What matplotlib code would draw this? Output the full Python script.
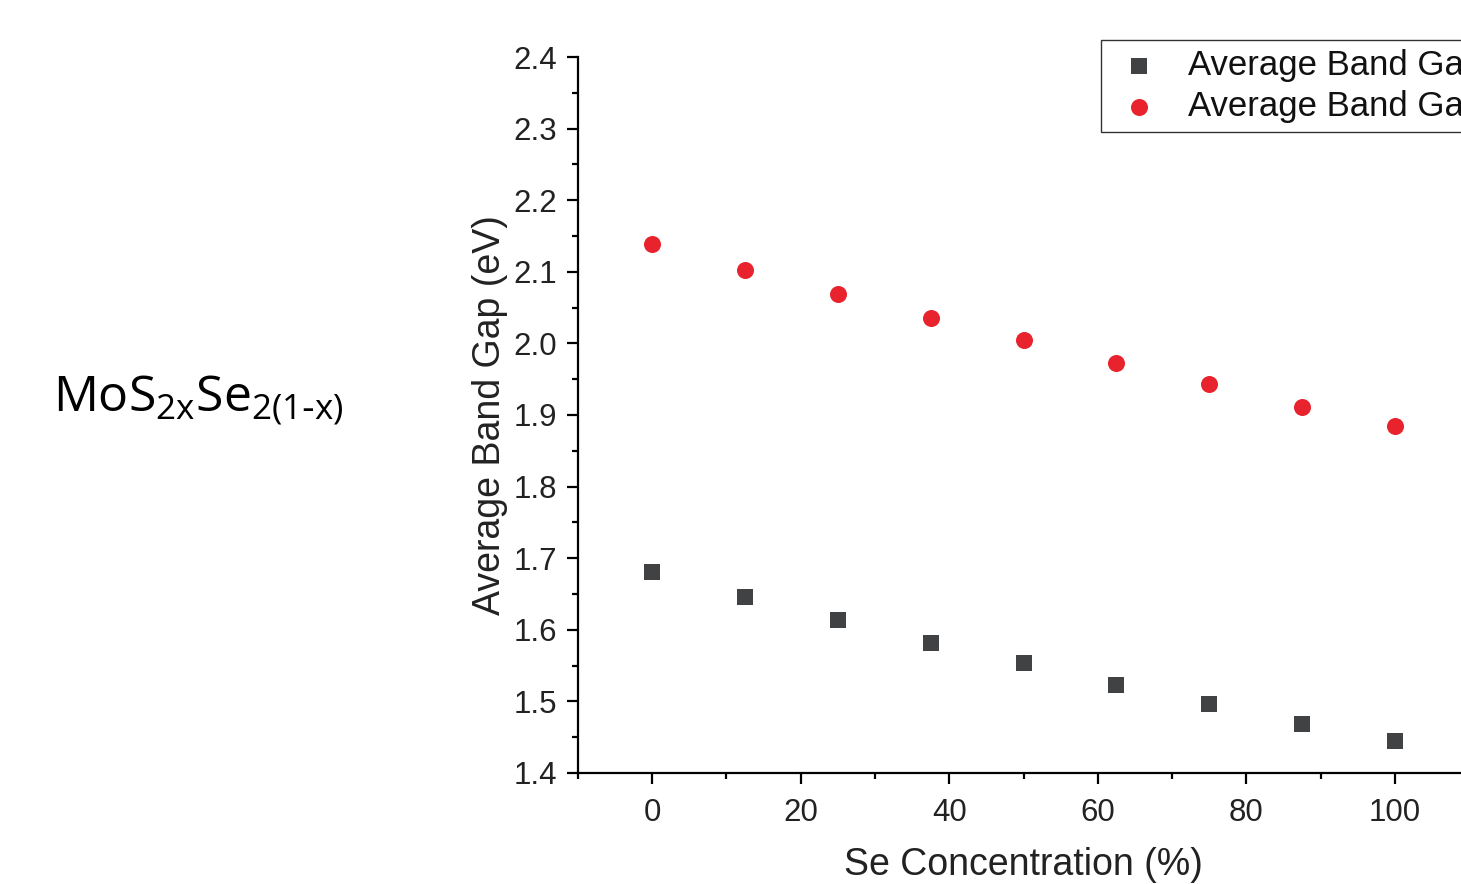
import matplotlib
matplotlib.use("Agg")
import matplotlib.pyplot as plt
from matplotlib.ticker import MultipleLocator, FormatStrFormatter

# Data
se_conc = [0, 12.5, 25, 37.5, 50, 62.5, 75, 87.5, 100]
gap_pbe = [1.681, 1.646, 1.614, 1.582, 1.554, 1.523, 1.496, 1.468, 1.445]
gap_hse = [2.139, 2.103, 2.069, 2.036, 2.005, 1.973, 1.943, 1.911, 1.885]
labels = ["Average Band Gap (PBE)", "Average Band Gap (HSE)"]

plt.rcParams['font.family'] = ['Liberation Sans', 'DejaVu Sans']

fig = plt.figure(figsize=(14.61, 8.84), dpi=100)
ax = fig.add_axes([0.3956, 0.1256, 1.0055 - 0.3956, 0.9355 - 0.1256])

ax.scatter(se_conc, gap_pbe, marker='s', s=120, color='#404244', label=labels[0], zorder=3, linewidths=0)
ax.scatter(se_conc, gap_hse, marker='o', s=150, color='#e8232d', label=labels[1], zorder=3, linewidths=0)

ax.set_xlim(-10, 110)
ax.set_ylim(1.4, 2.4)
ax.xaxis.set_major_locator(MultipleLocator(20))
ax.xaxis.set_minor_locator(MultipleLocator(10))
ax.yaxis.set_major_locator(MultipleLocator(0.1))
ax.yaxis.set_minor_locator(MultipleLocator(0.05))
ax.yaxis.set_major_formatter(FormatStrFormatter('%.1f'))

for side in ['top', 'right']:
    ax.spines[side].set_visible(False)
for side in ['left', 'bottom']:
    ax.spines[side].set_linewidth(1.6)

ax.tick_params(which='major', direction='out', length=8, width=1.6, labelsize=22.5,
               labelcolor='#222222', pad=7)
ax.tick_params(axis='x', which='major', pad=10)
ax.tick_params(which='minor', direction='out', length=4.5, width=1.6)

ax.set_xlabel("Se Concentration (%)", fontsize=27, color='#222222', labelpad=14)
ax.set_ylabel("Average Band Gap (eV)", fontsize=27, color='#222222', labelpad=4)

leg = ax.legend(loc='upper left', bbox_to_anchor=(0.7536, 0.9548), bbox_transform=fig.transFigure,
                borderaxespad=0, fontsize=25, frameon=True, fancybox=False, edgecolor='black',
                handletextpad=0.55, handlelength=1.7, labelspacing=0.25, borderpad=0.25,
                scatterpoints=1)
leg.get_frame().set_linewidth(1.0)
for t in leg.get_texts():
    t.set_color('#111111')

fig.text(0.036, 0.547, r'$\mathregular{MoS_{2x}Se_{2(1\text{-}x)}}$', fontsize=36,
         family='Open Sans', ha='left', va='center', color='black')

fig.savefig("out.png", dpi=100)
